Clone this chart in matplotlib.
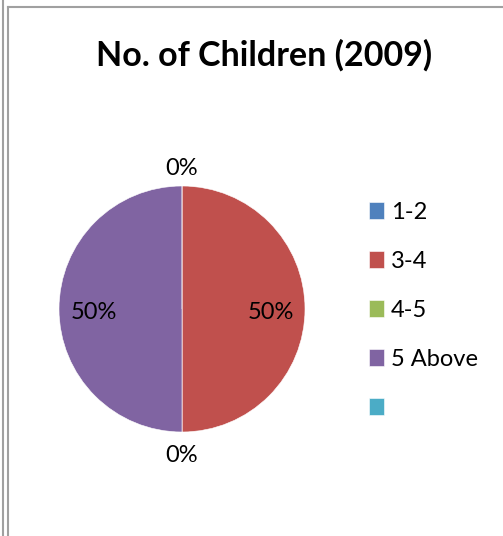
import matplotlib
matplotlib.use("Agg")
import matplotlib.pyplot as plt
from matplotlib.lines import Line2D
import numpy as np

# Number of children survey, 2009
categories = ["1-2", "3-4", "4-5", "5 Above", ""]
values = [0, 50, 0, 50, None]          # last category has no value
colors = ["#4F81BD", "#C0504D", "#9BBB59", "#8064A2", "#4BACC6"]
title = "No. of Children (2009)"

W, H = 503, 536
fig = plt.figure(figsize=(W / 100, H / 100), dpi=100)
fig.patch.set_facecolor("white")

plt.rcParams["font.family"] = ["Lato", "DejaVu Sans"]

def px(x, y):
    return x / W, 1 - y / H

# Chart frame lines
gray = "#a0a0a0"
for (x0, y0), (x1, y1) in [((2.5, 0), (2.5, H)), ((8, 7), (8, H)), ((8, 7), (W, 7))]:
    a, b = px(x0, y0)
    c, d = px(x1, y1)
    fig.add_artist(Line2D([a, c], [b, d], color=gray, lw=1.5))

# Pie axes
cx, cy, r = 182, 309, 123
ax = fig.add_axes([(cx - r) / W, 1 - (cy + r) / H, 2 * r / W, 2 * r / H])
plot_vals = [v if v is not None else 0 for v in values]
wedges, _ = ax.pie(plot_vals, colors=colors, startangle=90, counterclock=False,
                   radius=1, wedgeprops=dict(edgecolor="white", linewidth=0.4))
ax.set_xlim(-1, 1)
ax.set_ylim(-1, 1)
ax.set_aspect("equal")
ax.axis("off")

# Percentage labels
total = sum(plot_vals)
start = 90.0
for v in values:
    if v is None:
        continue
    frac = v / total
    sweep = 360 * frac
    mid = np.deg2rad(start - sweep / 2)
    dist = 1.17 if frac == 0 else 0.72
    ax.text(dist * np.cos(mid), dist * np.sin(mid) - 0.025, f"{frac * 100:.0f}%",
            ha="center", va="center", fontsize=17, color="black", clip_on=False)
    start -= sweep

# Title
tx, ty = px(264, 55)
fig.text(tx, ty, title, ha="center", va="center", fontsize=24.5, fontweight="bold")

# Legend
lx, ly = px(369, 202)
leg = fig.legend(wedges, categories, loc="upper left", bbox_to_anchor=(lx, ly),
                 frameon=False, fontsize=17, handlelength=0.62, handleheight=0.75,
                 handletextpad=0.3, labelspacing=1.18, borderpad=0, borderaxespad=0)

fig.savefig("out.png", dpi=100, facecolor="white")
